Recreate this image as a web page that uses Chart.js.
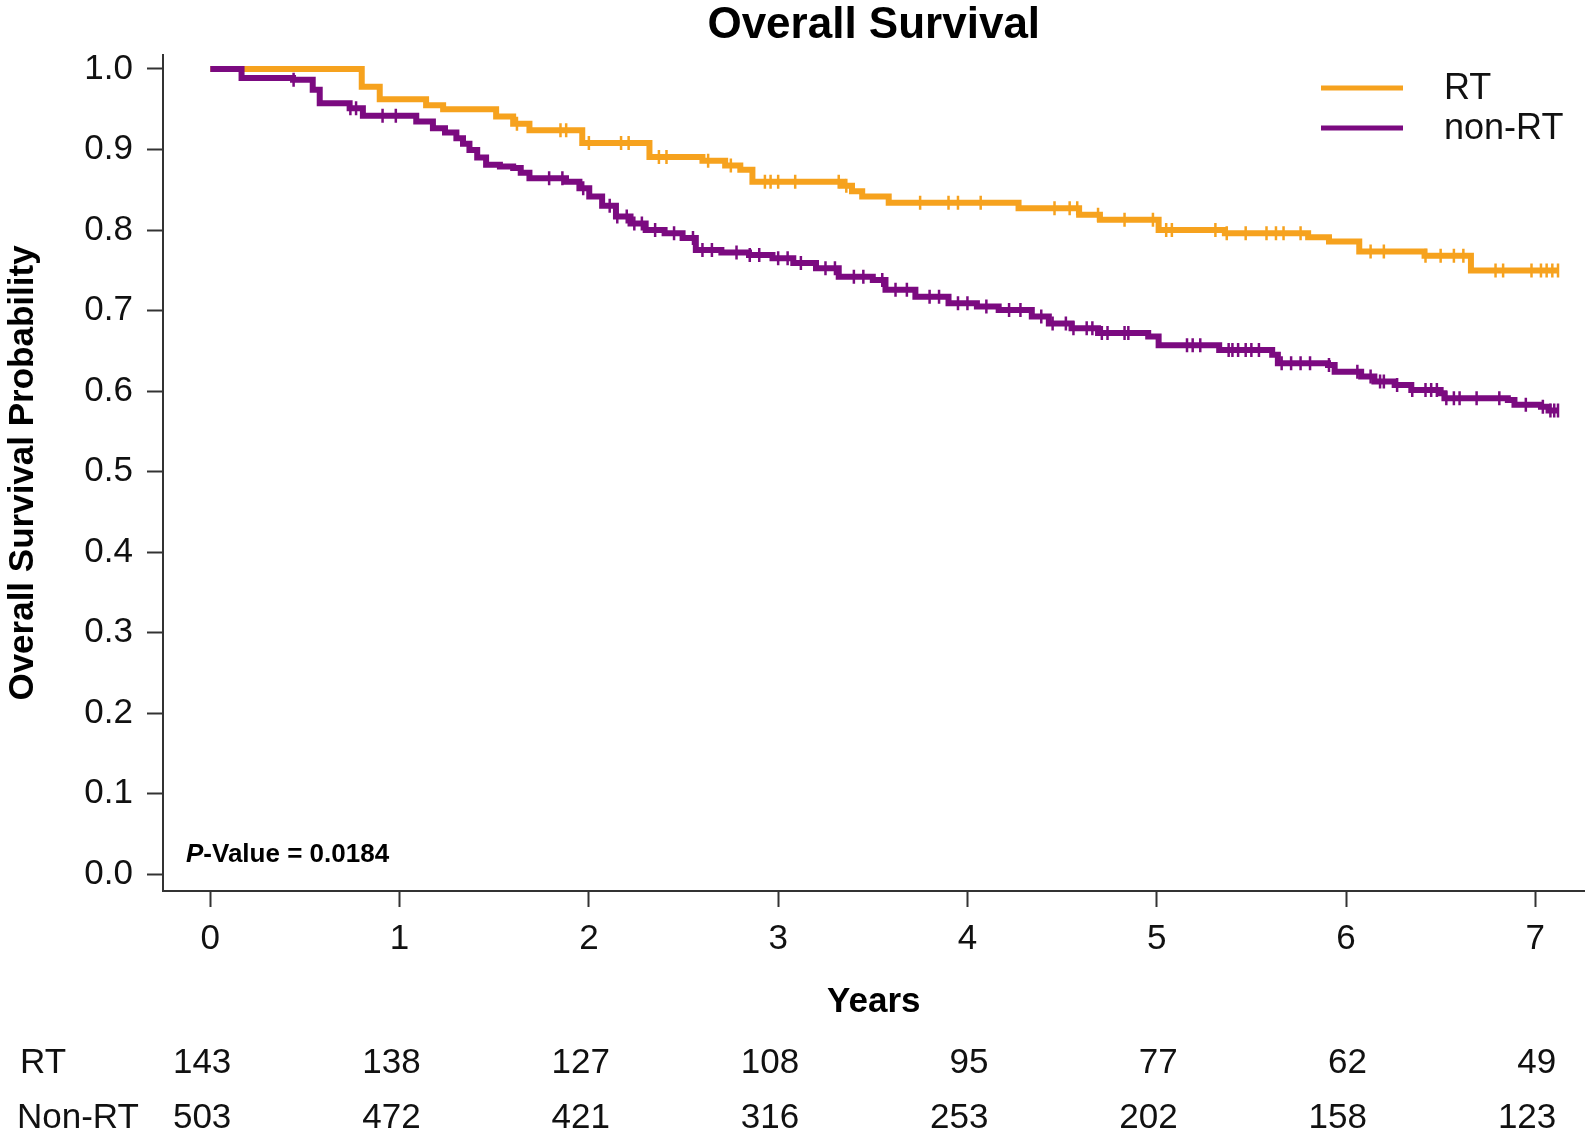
<!DOCTYPE html>
<html><head><meta charset="utf-8">
<script src="https://cdn.jsdelivr.net/npm/chart.js@4.4.0/dist/chart.umd.min.js"></script>
<style>html,body{margin:0;padding:0;background:#fff}#wrap{width:1594px;height:1136px}</style>
</head><body><div id="wrap"><canvas id="c" width="1594" height="1136"></canvas></div>
<script>
const chartTitle = 'Overall Survival';
const xTitle = 'Years';
const yTitle = 'Overall Survival Probability';
const legendNames = ['RT', 'non-RT'];
const riskRowLabels = ['RT', 'Non-RT'];
const xTickValues = [0, 1, 2, 3, 4, 5, 6, 7];
const yTickValues = [0, 0.1, 0.2, 0.3, 0.4, 0.5, 0.6, 0.7, 0.8, 0.9, 1.0];
const pItalic = 'P';
const pRest = '-Value = 0.0184';

const rtTimes = [0, 0.80, 0.895, 1.14, 1.23, 1.51, 1.60, 1.686, 1.965, 2.32, 2.60, 2.72, 2.80, 2.864, 3.34, 3.39, 3.444, 3.584, 4.27, 4.59, 4.70, 5.01, 5.36, 5.80, 5.91, 6.07, 6.415, 6.66, 7.12];
const rtSurv  = [1.0, 0.978, 0.9625, 0.955, 0.950, 0.941, 0.932, 0.924, 0.908, 0.8905, 0.886, 0.880, 0.8747, 0.860, 0.855, 0.848, 0.8415, 0.834, 0.827, 0.819, 0.8126, 0.800, 0.796, 0.791, 0.7857, 0.7732, 0.768, 0.7497, 0.7497];
const rtCensor = [1.62, 1.85, 1.88, 2.0, 2.17, 2.21, 2.37, 2.41, 2.63, 2.75, 2.93, 2.96, 3.0, 3.09, 3.32, 3.36, 3.75, 3.90, 3.95, 4.07, 4.46, 4.54, 4.58, 4.69, 4.83, 4.98, 5.05, 5.08, 5.31, 5.37, 5.47, 5.58, 5.63, 5.67, 5.76, 6.13, 6.20, 6.42, 6.50, 6.57, 6.62, 6.79, 6.83, 6.98, 7.03, 7.06, 7.09, 7.12];

const nonTimes = [0, 0.165, 0.437, 0.541, 0.578, 0.736, 0.806, 1.088, 1.176, 1.24, 1.30, 1.335, 1.369, 1.41, 1.457, 1.53, 1.60, 1.64, 1.686, 1.879, 1.95, 2.002, 2.07, 2.143, 2.22, 2.30, 2.40, 2.495, 2.565, 2.70, 2.846, 2.97, 3.08, 3.20, 3.32, 3.50, 3.567, 3.725, 3.90, 4.05, 4.165, 4.34, 4.43, 4.55, 4.69, 4.955, 5.01, 5.33, 5.61, 5.64, 5.905, 5.94, 6.08, 6.15, 6.257, 6.345, 6.50, 6.52, 6.855, 6.89, 7.03, 7.07, 7.12];
const nonSurv  = [1.0, 0.9886, 0.9865, 0.974, 0.9575, 0.9513, 0.942, 0.9347, 0.9265, 0.921, 0.914, 0.907, 0.8995, 0.890, 0.881, 0.879, 0.877, 0.871, 0.8644, 0.860, 0.852, 0.8415, 0.830, 0.8167, 0.808, 0.800, 0.796, 0.790, 0.7753, 0.772, 0.769, 0.765, 0.759, 0.7526, 0.742, 0.738, 0.7257, 0.717, 0.709, 0.705, 0.7008, 0.6925, 0.684, 0.678, 0.672, 0.6677, 0.657, 0.651, 0.645, 0.6346, 0.6325, 0.624, 0.618, 0.612, 0.6077, 0.6015, 0.5974, 0.5912, 0.589, 0.5829, 0.5807, 0.5758, 0.5758];
const nonCensor = [0.44, 0.74, 0.77, 0.91, 0.98, 1.79, 1.86, 1.97, 2.11, 2.15, 2.2, 2.24, 2.28, 2.35, 2.45, 2.55, 2.6, 2.65, 2.78, 2.85, 2.9, 3.0, 3.05, 3.12, 3.25, 3.3, 3.4, 3.45, 3.55, 3.62, 3.68, 3.8, 3.85, 3.95, 4.0, 4.1, 4.22, 4.28, 4.39, 4.45, 4.52, 4.56, 4.63, 4.66, 4.71, 4.74, 4.83, 4.85, 5.16, 5.19, 5.23, 5.38, 5.40, 5.43, 5.47, 5.50, 5.54, 5.66, 5.71, 5.76, 5.81, 5.91, 6.06, 6.13, 6.18, 6.20, 6.27, 6.35, 6.42, 6.45, 6.48, 6.53, 6.57, 6.60, 6.69, 6.81, 6.95, 7.04, 7.08, 7.10, 7.12];

const riskRT  = [143, 138, 127, 108, 95, 77, 62, 49];
const riskNon = [503, 472, 421, 316, 253, 202, 158, 123];

const ORANGE = '#F6A21E';
const PURPLE = '#7B0A80';
const FONT = "'Liberation Sans', Arial, sans-serif";

function toXY(ts, ss) { return ts.map((t, i) => ({x: t, y: ss[i]})); }
function survAt(ts, ss, t) { let s = ss[0]; for (let i = 0; i < ts.length; i++) { if (ts[i] <= t) s = ss[i]; } return s; }
function censorXY(cs, ts, ss) { return cs.map(t => ({x: t, y: survAt(ts, ss, t)})); }

Chart.defaults.font.family = FONT;
Chart.defaults.color = '#111';

const lineDs = (label, ts, ss, color) => ({label, data: toXY(ts, ss), borderColor: color, backgroundColor: color, borderWidth: 6, stepped: 'before', pointRadius: 0, fill: false, borderCapStyle: 'butt', borderJoinStyle: 'miter'});
const censDs = (label, cs, ts, ss, color) => ({label, data: censorXY(cs, ts, ss), showLine: false, pointStyle: 'line', pointRotation: 90, pointRadius: 7, pointBorderWidth: 2.5, pointBorderColor: color, borderColor: color, backgroundColor: color});

const overlay = {
  id: 'overlay',
  afterDraw(chart) {
    const ctx = chart.ctx, ca = chart.chartArea, xs = chart.scales.x;
    ctx.save();
    ctx.fillStyle = '#000';
    ctx.font = 'bold 44px ' + FONT;
    ctx.textAlign = 'center'; ctx.textBaseline = 'alphabetic';
    ctx.fillText(chartTitle, (ca.left + ca.right) / 2, 38);
    ctx.font = '36px ' + FONT;
    ctx.textAlign = 'left'; ctx.textBaseline = 'middle';
    legendNames.forEach((name, i) => {
      const ds = chart.data.datasets.find(d => d.label === name);
      const y = 88 + i * 40;
      ctx.strokeStyle = ds.borderColor; ctx.lineWidth = 5; ctx.lineCap = 'butt';
      ctx.beginPath(); ctx.moveTo(1321, y); ctx.lineTo(1403, y); ctx.stroke();
      ctx.fillStyle = '#111';
      ctx.fillText(name, 1444, y + 1);
    });
    ctx.textBaseline = 'alphabetic';
    ctx.font = 'italic bold 26px ' + FONT;
    ctx.fillStyle = '#000';
    ctx.fillText(pItalic, 186, 862);
    const w = ctx.measureText(pItalic).width;
    ctx.font = 'bold 26px ' + FONT;
    ctx.fillText(pRest, 186 + w, 862);
    ctx.font = '35px ' + FONT;
    ctx.fillStyle = '#111';
    ctx.textBaseline = 'middle';
    const rows = [riskRT, riskNon];
    const rowY = [1063, 1118];
    rows.forEach((row, r) => {
      ctx.textAlign = 'left';
      ctx.fillText(riskRowLabels[r], r === 0 ? 20 : 17, rowY[r]);
      ctx.textAlign = 'right';
      row.forEach((v, i) => {
        ctx.fillText(String(v), xs.getPixelForValue(xTickValues[i]) + 21, rowY[r]);
      });
    });
    ctx.restore();
  }
};

new Chart(document.getElementById('c'), {
  type: 'line',
  data: {
    datasets: [
      lineDs('non-RT', nonTimes, nonSurv, PURPLE),
      censDs('non-RT censored', nonCensor, nonTimes, nonSurv, PURPLE),
      lineDs('RT', rtTimes, rtSurv, ORANGE),
      censDs('RT censored', rtCensor, rtTimes, rtSurv, ORANGE)
    ]
  },
  options: {
    responsive: false,
    animation: false,
    events: [],
    layout: {padding: {top: 55, right: 7, bottom: 0, left: 0}},
    plugins: {legend: {display: false}, tooltip: {enabled: false}, title: {display: false}},
    scales: {
      x: {
        type: 'linear', min: -0.25, max: 7.26,
        afterBuildTicks: s => { s.ticks = xTickValues.map(v => ({value: v})); },
        afterFit: s => { s.height = 245; },
        grid: {display: true, drawOnChartArea: false, drawTicks: true, tickLength: 16, tickWidth: 2, tickColor: '#333'},
        border: {display: true, color: '#333', width: 2},
        ticks: {font: {size: 35}, color: '#111', padding: 11, maxRotation: 0, autoSkip: false, callback: v => String(v)},
        title: {display: true, text: xTitle, font: {size: 35, weight: 'bold'}, color: '#000', padding: {top: 0, bottom: 113}}
      },
      y: {
        type: 'linear', min: -0.0207, max: 1.0173,
        afterBuildTicks: s => { s.ticks = yTickValues.map(v => ({value: v})); },
        afterFit: s => { s.width = 163; },
        grid: {display: true, drawOnChartArea: false, drawTicks: true, tickLength: 16, tickWidth: 2, tickColor: '#333'},
        border: {display: true, color: '#333', width: 2},
        ticks: {font: {size: 35}, color: '#111', padding: 14, autoSkip: false, callback: v => Number(v).toFixed(1)},
        title: {display: true, text: yTitle, font: {size: 35, weight: 'bold'}, color: '#000', padding: {top: 2, bottom: 0}}
      }
    }
  },
  plugins: [overlay]
});
</script>
</body></html>
